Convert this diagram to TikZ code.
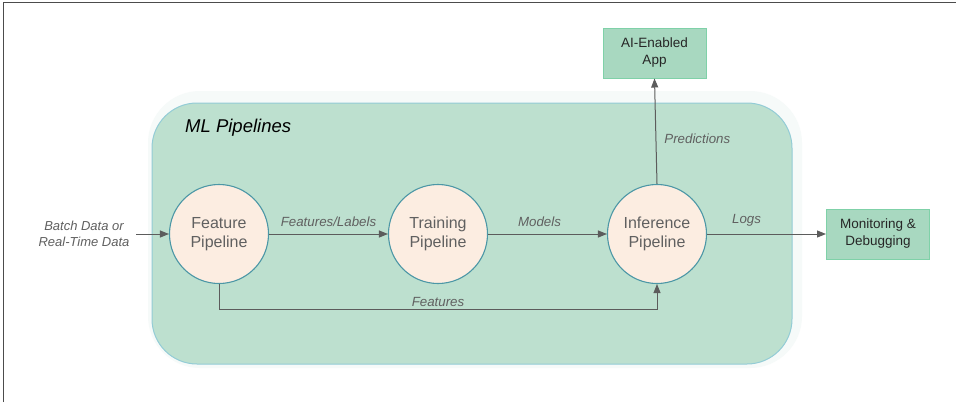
\documentclass[tikz,border=0pt]{standalone}
\usepackage{fontspec}
\setmainfont{Liberation Sans}
\usetikzlibrary{arrows.meta}
\definecolor{groupfill}{HTML}{BDE0CF}
\definecolor{groupdraw}{HTML}{93CCD6}
\definecolor{glow}{HTML}{F6FAF9}
\definecolor{circfill}{HTML}{FCEDE1}
\definecolor{circdraw}{HTML}{4C97A6}
\definecolor{boxfill}{HTML}{A8D8C0}
\definecolor{boxdraw}{HTML}{7FD1A8}
\definecolor{linecol}{HTML}{5C5C5C}
\definecolor{txtgray}{HTML}{606060}
\tikzset{
  pipe/.style={circle, draw=circdraw, fill=circfill, line width=1.1pt, minimum size=99pt, inner sep=0pt, align=center, text=txtgray, font=\fontsize{16}{19}\selectfont},
  outbox/.style={rectangle, draw=boxdraw, fill=boxfill, line width=1pt, minimum width=103pt, minimum height=50pt, inner sep=0pt, align=center, text=black!85, font=\fontsize{13.5}{17}\selectfont},
  conn/.style={draw=linecol, line width=1pt, -{Triangle[length=9pt,width=7pt]}},
  lbl/.style={text=txtgray, font=\fontsize{13.3}{16}\selectfont\itshape, align=center, inner sep=0pt}
}
\begin{document}
\begin{tikzpicture}[x=1pt,y=-1pt]
\useasboundingbox (0,0) rectangle (956,402);
\fill[white] (0,0) rectangle (956,402);
\draw[black!70, line width=1pt] (3,402) -- (3,2.5) -- (956,2.5);
% group
\fill[glow, rounded corners=52pt] (148,91) rectangle (802,368);
\draw[groupdraw, fill=groupfill, line width=1pt, rounded corners=45pt] (152,103) rectangle (792,364);
\node[font=\fontsize{18.5}{22}\selectfont\itshape, anchor=west, inner sep=0pt] (title) at (185,128) {ML Pipelines};
% nodes
\node[pipe] (feat) at (219,234) {Feature\\Pipeline};
\node[pipe] (train) at (438,234) {Training\\Pipeline};
\node[pipe] (infer) at (657,234) {Inference\\Pipeline};
\node[outbox] (app) at (654.5,53) {AI-Enabled\\App};
\node[outbox] (mon) at (878,234) {Monitoring \&\\Debugging};
\node[lbl, font=\fontsize{13}{16}\selectfont\itshape] (src) at (84,234) {Batch Data or\\Real-Time Data};
\coordinate (srcend) at (136,234);
\coordinate (bend1) at (219,309);
\coordinate (bend2) at (657,309);
% connectors
\draw[conn] (srcend) -- (feat);
\draw[conn] (feat) -- node[lbl, above=7pt] (l1) {Features/Labels} (train);
\draw[conn] (train) -- node[lbl, above=7pt, xshift=-8pt] (l2) {Models} (infer);
\draw[conn] (infer) -- node[lbl, above=7pt, xshift=-20pt] (l3) {Logs} (mon);
\draw[conn] (infer.north) -- node[lbl, right=8pt, pos=0.43] (l4) {Predictions} (app.south);
\draw[conn] (feat.south) -- (bend1) -- node[lbl, above=2pt] (l5) {Features} (bend2) -- (infer.south);
\end{tikzpicture}
\end{document}
